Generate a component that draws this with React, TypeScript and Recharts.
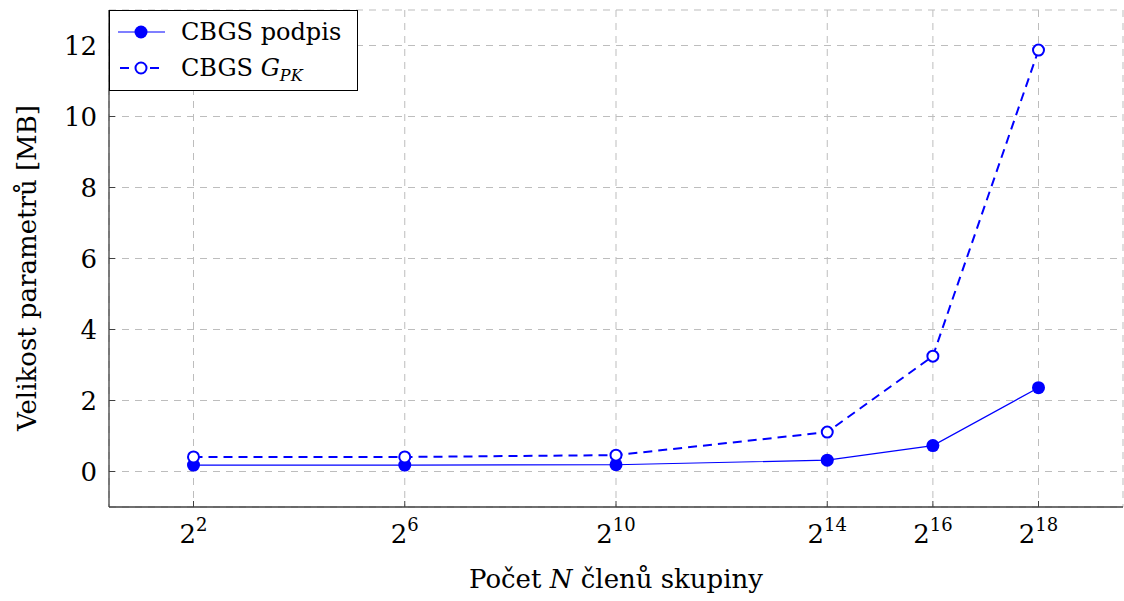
import { LineChart, Line, XAxis, YAxis, CartesianGrid } from 'recharts';

const exponents = [2, 6, 10, 14, 16, 18];
const podpis = [0.18, 0.18, 0.19, 0.32, 0.73, 2.36];
const gpk = [0.41, 0.41, 0.46, 1.11, 3.25, 11.87];
const yTicks = [0, 2, 4, 6, 8, 10, 12];

const data = exponents.map((e, i) => ({ e, podpis: podpis[i], gpk: gpk[i] }));

const BLUE = '#0000ff';
const FONT = '"DejaVu Serif", serif';
const AXIS = '#404040';
const FS = 26;

const XTick = ({ x, y, payload }: any) => (
  <g>
    <line x1={x} y1={y} x2={x} y2={y - 6} stroke={AXIS} strokeWidth={1} />
    <text x={x} y={y + 36} textAnchor="middle" fontFamily={FONT} fontSize={FS} fill="#000">
      <tspan>2</tspan>
      <tspan dy={-12} fontSize={18}>{payload.value}</tspan>
    </text>
  </g>
);

const XTickTop = ({ x, y }: any) => (
  <line x1={x} y1={y} x2={x} y2={y + 6} stroke={AXIS} strokeWidth={1} />
);

const YTick = ({ x, y, payload }: any) => (
  <g>
    <line x1={x} y1={y} x2={x + 6} y2={y} stroke={AXIS} strokeWidth={1} />
    <text x={x - 12} y={y} dy={9} textAnchor="end" fontFamily={FONT} fontSize={FS} fill="#000">
      {payload.value}
    </text>
  </g>
);

const YTickRight = ({ x, y }: any) => (
  <line x1={x} y1={y} x2={x - 6} y2={y} stroke={AXIS} strokeWidth={1} />
);

const LegendBox = () => (
  <svg width={249} height={81} style={{ display: 'block' }}>
    <rect x={0.5} y={0.5} width={248} height={80} fill="#fff" stroke="#000" strokeWidth={1} />
    <line x1={9} y1={22} x2={56} y2={22} stroke={BLUE} strokeWidth={1.2} />
    <circle cx={32} cy={22} r={6.5} fill={BLUE} />
    <text x={72} y={30} fontFamily={FONT} fontSize={24} fill="#000">CBGS podpis</text>
    <line x1={9} y1={58} x2={56} y2={58} stroke={BLUE} strokeWidth={2} strokeDasharray="9 6" strokeDashoffset={-2} />
    <circle cx={32} cy={58} r={5.5} fill="#fff" stroke={BLUE} strokeWidth={2} />
    <text x={72} y={66} fontFamily={FONT} fontSize={24} fill="#000">
      CBGS <tspan fontStyle="italic">G</tspan>
      <tspan fontStyle="italic" fontSize={16} dy={5}>PK</tspan>
    </text>
  </svg>
);

export default function App() {
  return (
    <div style={{ position: 'absolute', left: 0, top: 0, background: '#fff', width: 1124, height: 601 }}>
      <LineChart width={1124} height={601} data={data} margin={{ top: 10, right: 1, bottom: 0, left: 0 }}>
        <CartesianGrid xAxisId="b" yAxisId="l" stroke="#bdbdbd" strokeDasharray="7 6" />
        <XAxis
          xAxisId="b"
          dataKey="e"
          type="number"
          domain={[0.4, 19.6]}
          ticks={exponents}
          height={94}
          tickSize={0}
          tickMargin={0}
          tickLine={false}
          axisLine={{ stroke: AXIS, strokeWidth: 1.3 }}
          tick={<XTick />}
          interval={0}
          label={{
            content: () => (
              <text x={616} y={588} textAnchor="middle" fontFamily={FONT} fontSize={FS} fill="#000">
                Počet <tspan fontStyle="italic">N</tspan> členů skupiny
              </text>
            ),
          }}
        />
        <XAxis
          xAxisId="t"
          orientation="top"
          dataKey="e"
          type="number"
          domain={[0.4, 19.6]}
          ticks={exponents}
          height={0}
          tickSize={0}
          tickMargin={0}
          tickLine={false}
          axisLine={{ stroke: AXIS, strokeWidth: 1.3 }}
          tick={<XTickTop />}
          interval={0}
        />
        <YAxis
          yAxisId="l"
          type="number"
          domain={[-1, 13]}
          ticks={yTicks}
          width={109}
          tickSize={0}
          tickMargin={0}
          tickLine={false}
          axisLine={{ stroke: AXIS, strokeWidth: 1.3 }}
          tick={<YTick />}
          interval={0}
          label={{
            content: () => (
              <text
                x={36}
                y={268}
                textAnchor="middle"
                transform="rotate(-90 36 268)"
                fontFamily={FONT}
                fontSize={FS}
                fill="#000"
              >
                Velikost parametrů [MB]
              </text>
            ),
          }}
        />
        <YAxis
          yAxisId="r"
          orientation="right"
          type="number"
          domain={[-1, 13]}
          ticks={yTicks}
          width={0}
          tickSize={0}
          tickMargin={0}
          tickLine={false}
          axisLine={{ stroke: AXIS, strokeWidth: 1.3 }}
          tick={<YTickRight />}
          interval={0}
        />
        <Line
          xAxisId="b"
          yAxisId="l"
          dataKey="podpis"
          stroke={BLUE}
          strokeWidth={1.2}
          dot={{ r: 6.5, fill: BLUE, stroke: BLUE, strokeWidth: 0 }}
          isAnimationActive={false}
        />
        <Line
          xAxisId="b"
          yAxisId="l"
          dataKey="gpk"
          stroke={BLUE}
          strokeWidth={2}
          strokeDasharray="9 6"
          dot={{ r: 5.5, fill: '#fff', stroke: BLUE, strokeWidth: 2, strokeDasharray: '' }}
          isAnimationActive={false}
        />
      </LineChart>
      <div style={{ position: 'absolute', left: 109, top: 10 }}>
        <LegendBox />
      </div>
    </div>
  );
}
